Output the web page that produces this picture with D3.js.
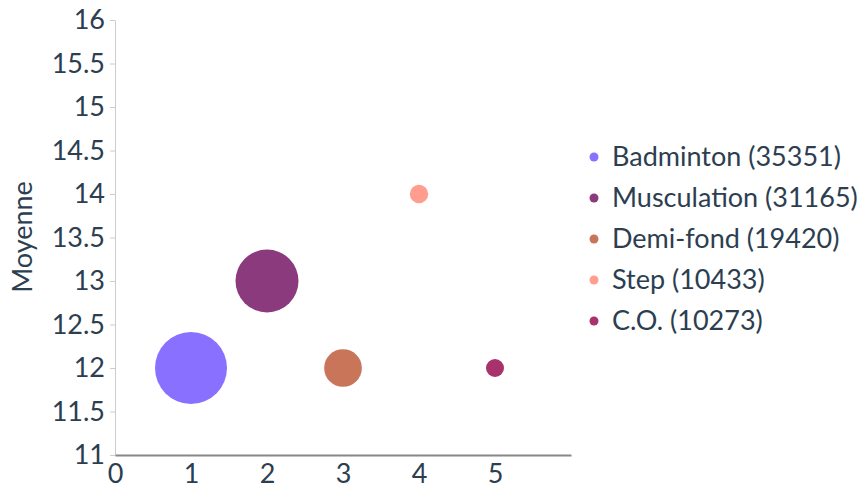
<!DOCTYPE html>
<html><head><meta charset="utf-8">
<script src="https://cdn.jsdelivr.net/npm/d3@7"></script>
<style>body{margin:0;background:#fff;} text{font-family:Lato,"Open Sans",sans-serif;}</style>
</head><body><svg id="c" width="860" height="490"></svg>
<script>
const categories = ["Badminton","Musculation","Demi-fond","Step","C.O."];
const xValues = [1,2,3,4,5];
const yValues = [12,13,12,14,12];
const counts = [35351,31165,19420,10433,10273];
const colors = ["#8a70ff","#8b3a7e","#c8755a","#ff9d8f","#a8336c"];
const xTicks = [0,1,2,3,4,5];
const yTicks = [11,11.5,12,12.5,13,13.5,14,14.5,15,15.5,16];

const svg = d3.select("#c");
const m = {l:115, t:20, r:571, b:455};
const x = d3.scaleLinear().domain([0,6]).range([m.l,m.r]);
const y = d3.scaleLinear().domain([11,16]).range([m.b,m.t]);
const r = d3.scaleLinear().domain([d3.min(counts), d3.max(counts)]).range([9,36]);
const textColor = "#2c3e50";
const fs = 27;

// y axis
const ya = svg.append("g").attr("transform",`translate(${m.l},0)`)
  .call(d3.axisLeft(y).tickValues(yTicks).tickSize(5).tickSizeOuter(0).tickPadding(5).tickFormat(d=>String(d)));
ya.select(".domain").attr("stroke","#ccc");
ya.selectAll(".tick line").attr("stroke","#ccc");
ya.selectAll(".tick text").attr("fill",textColor).attr("font-size",fs);

// x axis
const xa = svg.append("g").attr("transform",`translate(0,${m.b})`)
  .call(d3.axisBottom(x).tickValues(xTicks).tickSize(0).tickSizeOuter(0).tickPadding(9).tickFormat(d=>String(d)));
xa.select(".domain").attr("stroke","#888").attr("stroke-width",2);
xa.selectAll(".tick text").attr("fill",textColor).attr("font-size",fs);

svg.append("text").attr("transform",`translate(32,237) rotate(-90)`)
  .attr("text-anchor","middle").attr("fill",textColor).attr("font-size",fs).text("Moyenne");

// bubbles
const data = categories.map((c,i)=>({c, x:xValues[i], y:yValues[i], n:counts[i], col:colors[i]}));
svg.append("g").selectAll("circle").data(data).join("circle")
  .attr("cx",d=>x(d.x)).attr("cy",d=>y(d.y)).attr("r",d=>r(d.n)).attr("fill",d=>d.col);

// legend
const lg = svg.append("g");
data.forEach((d,i)=>{
  const yy = 157 + i*41;
  lg.append("circle").attr("cx",594).attr("cy",yy).attr("r",4.5).attr("fill",d.col);
  lg.append("text").attr("x",612).attr("y",yy).attr("dy","0.35em").attr("fill",textColor)
    .attr("font-size",fs).text(`${d.c} (${d.n})`);
});
</script></body></html>
